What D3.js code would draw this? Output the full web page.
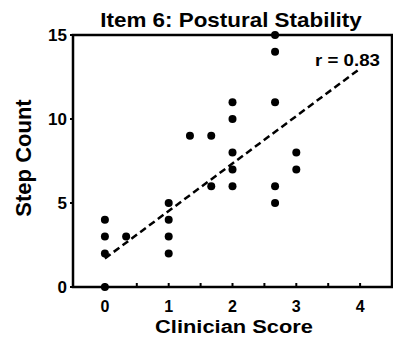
<!DOCTYPE html>
<html>
<head>
<meta charset="UTF-8">
<script src="https://d3js.org/d3.v7.min.js"></script>
<style>
  body { margin: 0; background: #fff; }
  text { font-family: "Liberation Sans", Arial, sans-serif; font-weight: bold; fill: #000; }
</style>
</head>
<body>
<div id="chart"></div>
<script>
// clinician score vs step count
var scoreX = [0, 0, 0, 0, 0.333, 1, 1, 1, 1, 1.333, 1.667, 1.667, 2, 2, 2, 2, 2, 2.667, 2.667, 2.667, 2.667, 2.667, 3, 3];
var stepY  = [0, 2, 3, 4, 3,     2, 3, 4, 5, 9,     9,     6,     11, 10, 8, 7, 6, 15,  14,    11,    6,     5,     8, 7];
var fitX = [0, 4];
var fitY = [1.7, 13.0];
var xTicks = [0, 1, 2, 3, 4];
var yTicks = [0, 5, 10, 15];

var width = 393, height = 337;
var margin = {top: 35, right: 1, bottom: 50, left: 73};

var svg = d3.select("#chart").append("svg")
    .attr("width", width).attr("height", height);

var x = d3.scaleLinear().domain([-0.5, 4.5]).range([margin.left, width - margin.right]);
var y = d3.scaleLinear().domain([0, 15]).range([height - margin.bottom, margin.top]);

// frame
svg.append("rect")
    .attr("x", x(-0.5)).attr("y", y(15))
    .attr("width", x(4.5) - x(-0.5)).attr("height", y(0) - y(15))
    .attr("fill", "none").attr("stroke", "#000").attr("stroke-width", 2.5);

// bottom minor ticks (inside)
svg.selectAll(".xt").data(d3.range(0, 4.01, 0.5)).enter().append("line")
    .attr("x1", d => x(d)).attr("x2", d => x(d))
    .attr("y1", y(0)).attr("y2", y(0) - 4)
    .attr("stroke", "#000").attr("stroke-width", 2);

svg.selectAll(".xl").data(xTicks).enter().append("text")
    .attr("x", d => x(d)).attr("y", y(0) + 25)
    .attr("text-anchor", "middle").style("font-size", "16px")
    .text(d => d);

svg.selectAll(".yt").data(yTicks).enter().append("line")
    .attr("x1", x(-0.5) - 3).attr("x2", x(-0.5))
    .attr("y1", d => y(d)).attr("y2", d => y(d))
    .attr("stroke", "#000").attr("stroke-width", 2);

svg.selectAll(".yl").data(yTicks).enter().append("text")
    .attr("x", x(-0.5) - 6).attr("y", d => y(d) + 6)
    .attr("text-anchor", "end").style("font-size", "17px")
    .text(d => d);

// regression line
svg.append("line")
    .attr("x1", x(fitX[0])).attr("y1", y(fitY[0]))
    .attr("x2", x(fitX[1])).attr("y2", y(fitY[1]))
    .attr("stroke", "#000").attr("stroke-width", 2.5)
    .attr("stroke-dasharray", "7,4");

svg.selectAll(".dot").data(scoreX).enter().append("circle")
    .attr("cx", d => x(d)).attr("cy", (d, i) => y(stepY[i]))
    .attr("r", 4).attr("fill", "#000");

svg.append("text")
    .attr("transform", "translate(380,66) scale(1.1,1)")
    .attr("text-anchor", "end").style("font-size", "17px")
    .text("r = 0.83");

svg.append("text")
    .attr("transform", "translate(231,27) scale(1.15,1)")
    .attr("text-anchor", "middle").style("font-size", "19.5px")
    .text("Item 6: Postural Stability");

svg.append("text")
    .attr("transform", "translate(234,333) scale(1.15,1)")
    .attr("text-anchor", "middle").style("font-size", "19px")
    .text("Clinician Score");

svg.append("text")
    .attr("transform", "translate(31,158) rotate(-90)")
    .attr("text-anchor", "middle").style("font-size", "22px")
    .text("Step Count");
</script>
</body>
</html>
